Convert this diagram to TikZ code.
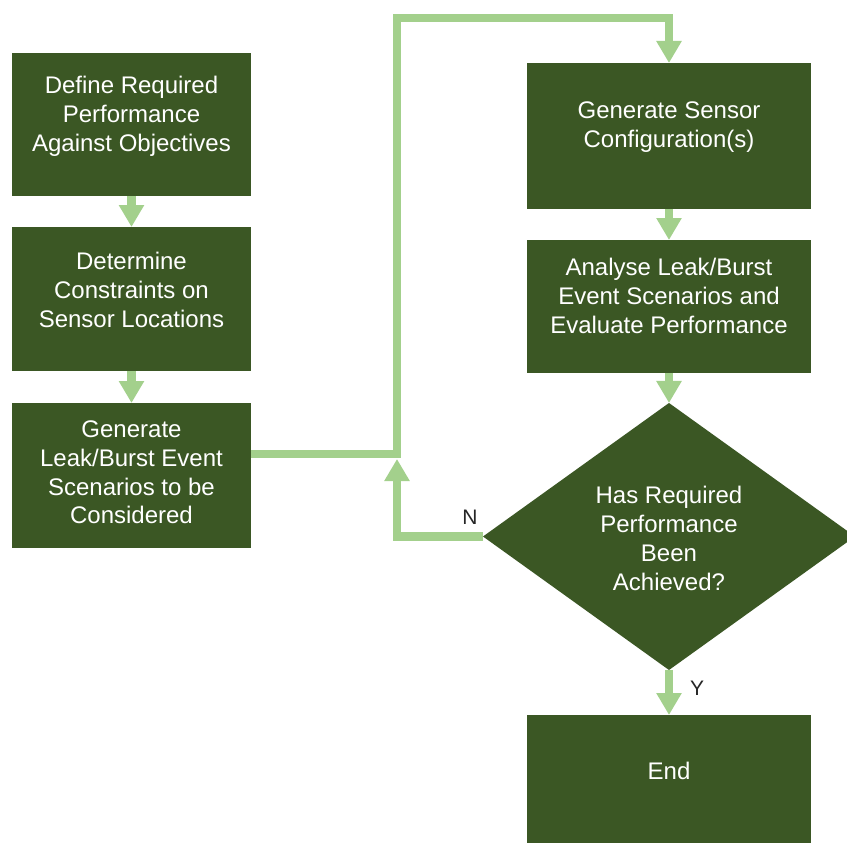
\documentclass[tikz,border=0pt]{standalone}
\usepackage{fontspec}
\setmainfont{Liberation Sans}
\usetikzlibrary{shapes.geometric,arrows.meta}
\definecolor{boxgreen}{RGB}{59,87,36}
\definecolor{flowgreen}{RGB}{163,208,140}
\begin{document}
\begin{tikzpicture}[x=1pt,y=-1pt,
  stepbox/.style={fill=boxgreen, draw=none, inner sep=0pt, outer sep=0pt},
  decision/.style={stepbox, diamond, aspect=1.393},
  steptext/.style={text=white, align=center, inner sep=0pt,
                   font=\fontsize{24}{28.8}\selectfont},
  flowline/.style={draw=flowgreen, line width=8.5pt, line join=miter},
  flow/.style={flowline, -{Triangle[width=24pt,length=22pt]}},
  tag/.style={text=black!85, inner sep=0pt, font=\fontsize{21}{24}\selectfont}]

% page frame
\useasboundingbox (0,0) rectangle (847,843);
\fill[white] (0,0) rectangle (847,843);
\clip (0,0) rectangle (847,843);

% left column
\node[stepbox, minimum width=239pt, minimum height=143pt] (b1) at (131.5,124.5) {};
\node[stepbox, minimum width=239pt, minimum height=144pt] (b2) at (131.5,299) {};
\node[stepbox, minimum width=239pt, minimum height=145pt] (b3) at (131.5,475.5) {};

% right column
\node[stepbox, minimum width=284pt, minimum height=146pt] (r1) at (669,136) {};
\node[stepbox, minimum width=284pt, minimum height=133pt] (r2) at (669,306.5) {};
\node[decision, minimum width=372pt, minimum height=267pt] (d) at (669,536.5) {};
\node[stepbox, minimum width=284pt, minimum height=135pt] (e) at (669,782.5) {};

% routing points of the loop
\coordinate (j) at (397,454);
\coordinate (top) at (397,18);
\coordinate (loopend) at (397,459);

% connectors
\draw[flow] (b1) -- (b2);
\draw[flow] (b2) -- (b3);
\draw[flow] (b3.east |- j) -- (j) -- (top) -| (r1.north);
\draw[flow] (r1) -- (r2);
\draw[flow] (r2) -- (d);
\draw[flow] (d.west) -- (d.west -| j) -- (loopend);
\draw[flow] (d) -- (e);

% branch labels
\node[tag] (nlab) at (470,517.5) {N};
\node[tag] (ylab) at (697,688) {Y};

% step texts
\node[steptext] (t1) at (131.5,116.5) {Define Required\\Performance\\Against Objectives};
\node[steptext] (t2) at (131.5,290) {Determine\\Constraints on\\Sensor Locations};
\node[steptext] (t3) at (131.5,472.5) {Generate\\Leak/Burst Event\\Scenarios to be\\Considered};
\node[steptext] (t4) at (669,127) {Generate Sensor\\Configuration(s)};
\node[steptext] (t5) at (669,296) {Analyse Leak/Burst\\Event Scenarios and\\Evaluate Performance};
\node[steptext] (t6) at (669,538.5) {Has Required\\Performance\\Been\\Achieved?};
\node[steptext] (t7) at (669,770.5) {End};
\end{tikzpicture}
\end{document}
